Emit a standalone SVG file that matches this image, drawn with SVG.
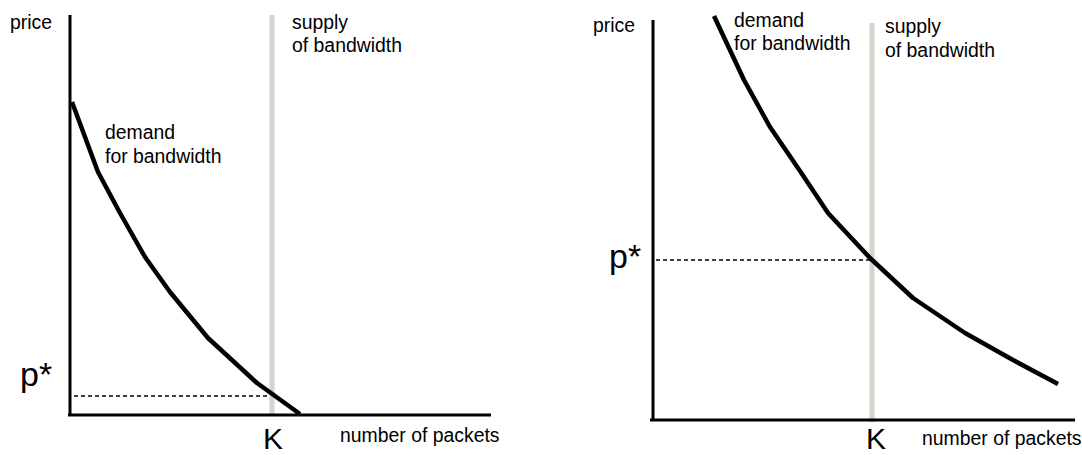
<svg xmlns="http://www.w3.org/2000/svg" width="1082" height="455" viewBox="0 0 1082 455">
<style>
text{font-family:"Liberation Sans",Arial,sans-serif;fill:#000}
.lbl{font-size:19.4px}
.big{font-size:34px}
.k{font-size:30px}
.axis{stroke:#000;stroke-width:3;fill:none}
.supply{stroke:#d4d4cc;stroke-width:5;fill:none}
.demand{stroke:#000;stroke-width:4.5;fill:none;stroke-linejoin:round}
.dash{stroke:#000;stroke-width:1.5;stroke-dasharray:4 3;fill:none}
</style>
<rect width="1082" height="455" fill="#fff"/>
<g id="left-chart">
  <g id="left-supply">
    <line class="supply" x1="272" y1="15" x2="272" y2="414"/>
    <text class="lbl" x="292" y="29">supply</text>
    <text class="lbl" x="292" y="52">of bandwidth</text>
  </g>
  <g id="left-axes">
    <line class="axis" x1="70" y1="15" x2="70" y2="416"/>
    <line class="axis" x1="68" y1="415" x2="491" y2="415"/>
    <text class="lbl" x="10" y="29">price</text>
    <text class="lbl" x="340" y="442">number of packets</text>
    <text class="k" x="263" y="449">K</text>
    <text class="big" x="20" y="386">p*</text>
  </g>
  <g id="left-demand">
    <polyline class="demand" points="72,102 98,172 120,213 145,257 170,292 208,338 257,383 300,414"/>
    <text class="lbl" x="105" y="139">demand</text>
    <text class="lbl" x="105" y="163">for bandwidth</text>
  </g>
</g>
<g id="right-chart">
  <g id="right-supply">
    <line class="supply" x1="872" y1="23" x2="872" y2="422"/>
    <text class="lbl" x="885" y="33">supply</text>
    <text class="lbl" x="885" y="57">of bandwidth</text>
  </g>
  <g id="right-axes">
    <line class="axis" x1="653" y1="20" x2="653" y2="421"/>
    <line class="axis" x1="650" y1="420" x2="1075" y2="420"/>
    <text class="lbl" x="593" y="32">price</text>
    <text class="lbl" x="922" y="445">number of packets</text>
    <text class="k" x="866" y="449">K</text>
    <text class="big" x="609" y="268">p*</text>
  </g>
  <g id="right-demand">
    <polyline class="demand" points="714,16 744,80 770,127 800,171 828,213 870,258 913,298 965,333 1013,360 1058,384"/>
    <text class="lbl" x="734" y="27">demand</text>
    <text class="lbl" x="734" y="50">for bandwidth</text>
  </g>
</g>
<g id="connectors">
  <line class="dash" x1="74" y1="396" x2="270" y2="396"/>
  <line class="dash" x1="656" y1="260" x2="870" y2="260"/>
</g>
</svg>
